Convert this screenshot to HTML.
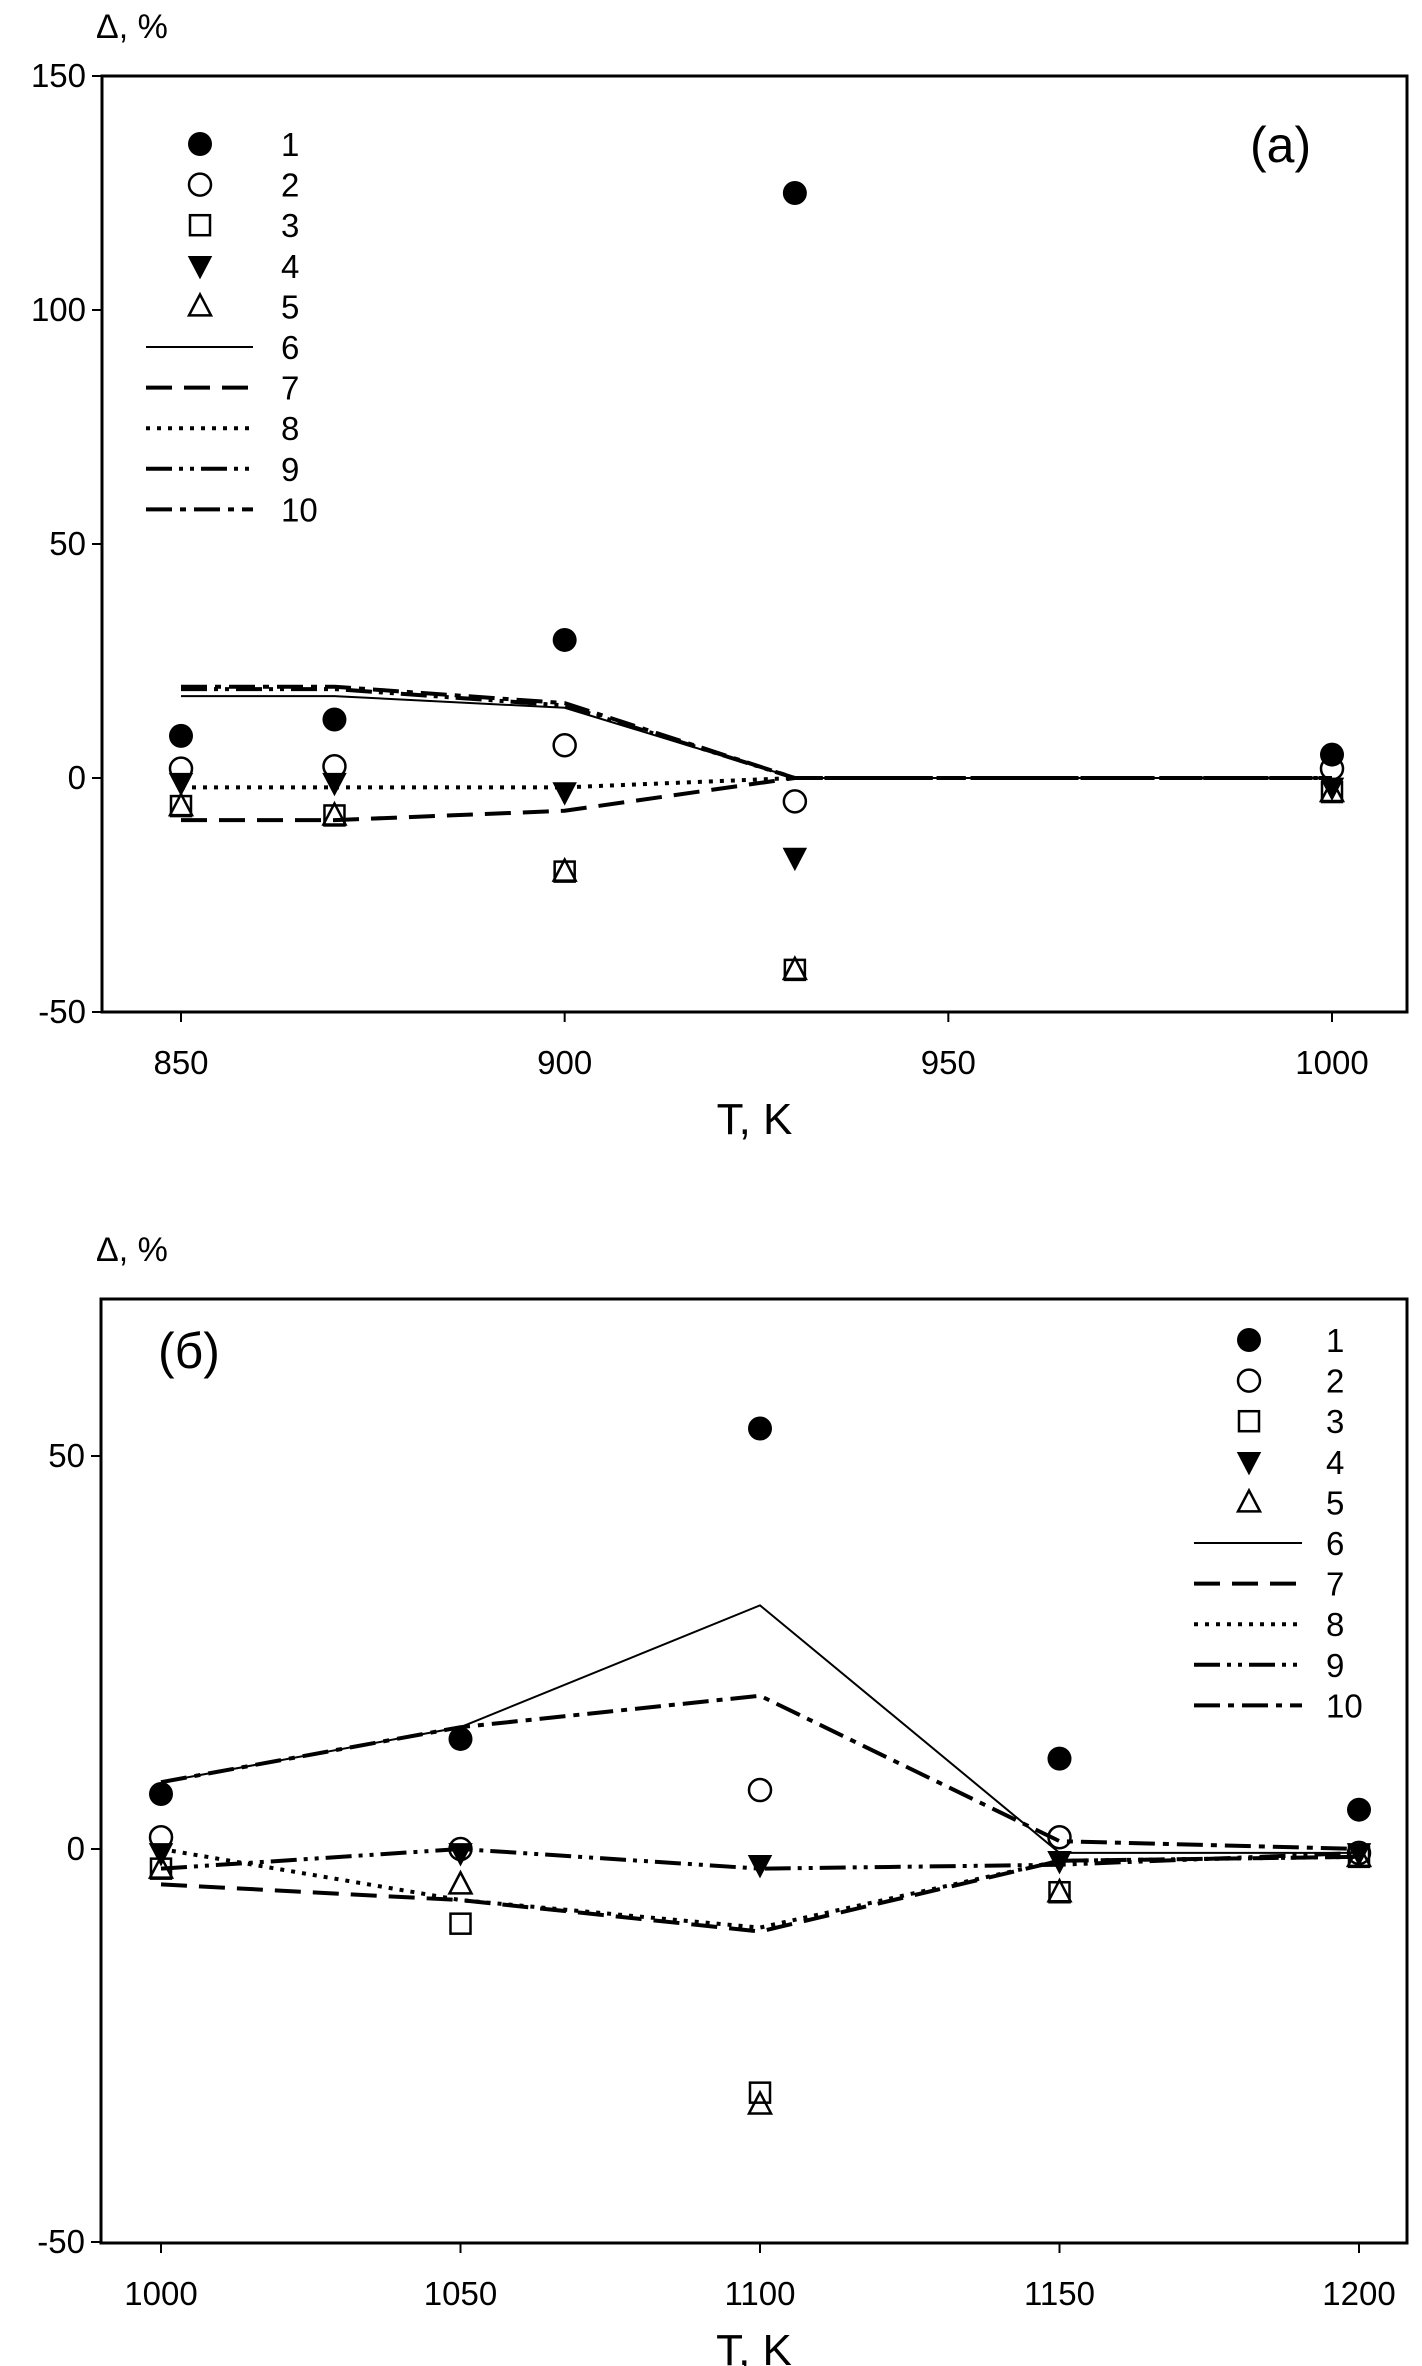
<!DOCTYPE html>
<html><head><meta charset="utf-8">
<style>
html,body{margin:0;padding:0;background:#fff;}
svg{display:block;font-family:"Liberation Sans",Arial,sans-serif;}
</style></head>
<body>
<svg id="chart" width="1422" height="2366" viewBox="0 0 1422 2366" xmlns="http://www.w3.org/2000/svg"></svg>
<script>
// ---- Panel (a) data ----
const xA = [850, 870, 900, 930, 1000];
const a1 = [9, 12.5, 29.5, 125, 5];
const a2 = [2, 2.5, 7, -5, 2];
const a3 = [-6, -8, -20, -41, -3];
const a4 = [-1, -1, -3, -17, -2];
const a5 = [-6, -8, -20, -41, -3];
const a6 = [17.5, 17.5, 15, 0, 0];
const a7 = [-9, -9, -7, 0, 0];
const a8 = [-2, -2, -2, 0, 0];
const a9 = [19, 19, 15.5, 0, 0];
const a10 = [19.5, 19.5, 16, 0, 0];
const xTicksA = [850, 900, 950, 1000];
const yTicksA = [-50, 0, 50, 100, 150];
// ---- Panel (b) data ----
const xB = [1000, 1050, 1100, 1150, 1200];
const b1 = [7, 14, 53.5, 11.5, 5];
const b2 = [1.5, 0, 7.5, 1.5, -0.5];
const b3 = [-2.5, -9.5, -31, -5.5, -1];
const b4 = [-0.5, -0.5, -2, -1.5, -0.5];
const b5 = [-2.5, -4.5, -32.5, -5.5, -1];
const b6 = [8.5, 15.5, 31, -0.5, -0.5];
const b7 = [-4.5, -6.5, -10.5, -1.5, -1];
const b8 = [0, -6.5, -10, -1.5, -1];
const b9 = [-2.5, 0, -2.5, -2, -0.5];
const b10 = [8.5, 15.5, 19.5, 1, 0];
const xTicksB = [1000, 1050, 1100, 1150, 1200];
const yTicksB = [-50, 0, 50];
const legendLabels = ["1","2","3","4","5","6","7","8","9","10"];

const NS = "http://www.w3.org/2000/svg";
const svg = document.getElementById("chart");
function mk(tag, attrs, parent) {
  const e = document.createElementNS(NS, tag);
  for (const k in attrs) e.setAttribute(k, attrs[k]);
  (parent || svg).appendChild(e);
  return e;
}
const dashes = {
  "6": "",
  "7": "26,12",
  "8": "4,7",
  "9": "26,7,4,7,4,7",
  "10": "26,8,6,8"
};

function marker(g, type, cx, cy) {
  let e;
  if (type === 1) e = mk("circle", {cx: cx, cy: cy, r: 12, fill: "#000"}, g);
  else if (type === 2) e = mk("circle", {cx: cx, cy: cy, r: 11, fill: "none", stroke: "#000", "stroke-width": 2.5}, g);
  else if (type === 3) e = mk("rect", {x: cx - 10, y: cy - 10, width: 20, height: 20, fill: "none", stroke: "#000", "stroke-width": 2.5}, g);
  else if (type === 4) e = mk("polygon", {points: (cx-11)+","+(cy-9)+" "+(cx+11)+","+(cy-9)+" "+cx+","+(cy+12), fill: "#000", stroke: "#000", "stroke-width": 1.5}, g);
  else e = mk("polygon", {points: (cx-11)+","+(cy+9)+" "+(cx+11)+","+(cy+9)+" "+cx+","+(cy-12), fill: "none", stroke: "#000", "stroke-width": 2.5}, g);
  return e;
}

function panel(cfg) {
  const g = mk("g", {});
  
  
  const sx = v => cfg.x0 + (v - cfg.xv0) / (cfg.xv1 - cfg.xv0) * (cfg.x1 - cfg.x0);
  const sy = v => cfg.y0 + (v - cfg.yv0) / (cfg.yv1 - cfg.yv0) * (cfg.y1 - cfg.y0);
  const fr = mk("rect", {x: cfg.L, y: cfg.T, width: cfg.R - cfg.L, height: cfg.B - cfg.T, fill: "none", stroke: "#000", "stroke-width": 3}, g);
  
  
  cfg.xTicks.forEach(t => {
    const X = sx(t);
    mk("line", {x1: X, y1: cfg.B, x2: X, y2: cfg.B + 10, stroke: "#000", "stroke-width": 2}, g);
    const tx = mk("text", {x: X, y: cfg.B + 62, "font-size": 33, "text-anchor": "middle"}, g);
    tx.textContent = t;
    
    
  });
  cfg.yTicks.forEach(t => {
    const Y = sy(t);
    mk("line", {x1: cfg.L - 10, y1: Y, x2: cfg.L, y2: Y, stroke: "#000", "stroke-width": 2}, g);
    const tx = mk("text", {x: cfg.L - 16, y: Y + 11, "font-size": 33, "text-anchor": "end"}, g);
    tx.textContent = t;
    
    
  });
  const xt = mk("text", {x: (cfg.L + cfg.R) / 2, y: cfg.B + 122, "font-size": 44, "text-anchor": "middle"}, g);
  xt.textContent = "T, K";
  
  
  const yt = mk("text", {x: 96, y: cfg.T - 38, "font-size": 34}, g);
  yt.textContent = "\u0394, %";
  
  
  const pl = mk("text", {x: cfg.plx, y: cfg.ply, "font-size": 50}, g);
  pl.textContent = cfg.panelLabel;
  
  
  cfg.lines.forEach((arr, i) => {
    const id = String(i + 6);
    const pts = arr.map((v, j) => sx(cfg.xs[j]) + "," + sy(v)).join(" ");
    const a = {points: pts, fill: "none", stroke: "#000", "stroke-width": id === "6" ? 2 : 4};
    if (dashes[id]) a["stroke-dasharray"] = dashes[id];
    const p = mk("polyline", a, g);
    
    
  });
  cfg.pts.forEach((arr, i) => {
    const sg = mk("g", {}, g);
    
    
    arr.forEach((v, j) => {
      const m = marker(sg, i + 1, sx(cfg.xs[j]), sy(v));
      
      
    });
  });
  const lg = mk("g", {}, g);
  
  
  legendLabels.forEach((lab, i) => {
    const y = cfg.legY + i * 40.6;
    const eg = mk("g", {}, lg);
    
    
    if (i < 5) marker(eg, i + 1, cfg.legSym, y);
    else {
      const id = String(i + 1);
      const a = {x1: cfg.legL0, y1: y, x2: cfg.legL1, y2: y, stroke: "#000", "stroke-width": id === "6" ? 2 : 4};
      if (dashes[id]) a["stroke-dasharray"] = dashes[id];
      mk("line", a, eg);
    }
    const t = mk("text", {x: cfg.legTx, y: y + 12, "font-size": 33}, eg);
    t.textContent = lab;
  });
}

panel({
  name: "panel-a", L: 102, R: 1407, T: 76, B: 1012,
  x0: 181, x1: 1332, xv0: 850, xv1: 1000,
  y0: 778, y1: 76, yv0: 0, yv1: 150,
  xs: xA, xTicks: xTicksA, yTicks: yTicksA,
  lines: [a6, a7, a8, a9, a10], pts: [a1, a2, a3, a4, a5],
  panelLabel: "(a)", plx: 1250, ply: 162,
  legY: 144, legSym: 200, legL0: 146, legL1: 253, legTx: 281
});
panel({
  name: "panel-b", L: 101, R: 1407, T: 1299, B: 2243,
  x0: 161, x1: 1359, xv0: 1000, xv1: 1200,
  y0: 1849, y1: 1456, yv0: 0, yv1: 50,
  xs: xB, xTicks: xTicksB, yTicks: yTicksB,
  lines: [b6, b7, b8, b9, b10], pts: [b1, b2, b3, b4, b5],
  panelLabel: "(\u0431)", plx: 158, ply: 1368,
  legY: 1340, legSym: 1249, legL0: 1194, legL1: 1302, legTx: 1326
});
</script>
</body></html>
